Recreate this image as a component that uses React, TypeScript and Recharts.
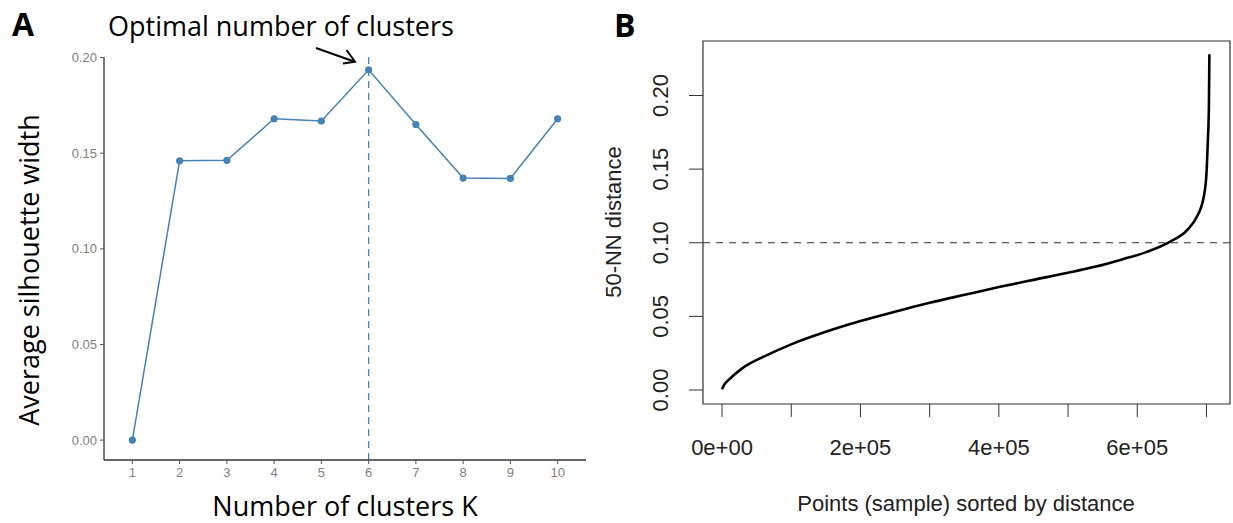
import React from 'react';
import { LineChart, Line, XAxis, YAxis, ReferenceLine, ReferenceArea } from 'recharts';

// Panel A: silhouette width per number of clusters
const clusterK = [1, 2, 3, 4, 5, 6, 7, 8, 9, 10];
const silhouetteWidth = [0, 0.146, 0.1463, 0.168, 0.1668, 0.1936, 0.165, 0.137, 0.1368, 0.168];
const silhouetteTicks = [0, 0.05, 0.1, 0.15, 0.2];
const optimalK = 6;

// Panel B: sorted 50-NN distances
const pointRank = [
  0, 3000, 10000, 30000, 65000, 100000, 150000, 200000, 257000, 300000, 354000, 400000,
  450000, 500000, 540000, 578000, 614000, 647000, 672000, 686000, 696000, 700000, 702000,
  703500, 704200,
];
const knnDistance = [
  0.0005, 0.0035, 0.007, 0.015, 0.0237, 0.031, 0.0395, 0.0468, 0.054, 0.0592, 0.065, 0.0699,
  0.0748, 0.0796, 0.0838, 0.0887, 0.0938, 0.1006, 0.1085, 0.1176, 0.131, 0.147, 0.1696,
  0.192, 0.228,
];
const rankTicks = [0, 100000, 200000, 300000, 400000, 500000, 600000, 700000];
const distanceTicks = [0, 0.05, 0.1, 0.15, 0.2];
const epsCutoff = 0.1;

const silhouetteData = clusterK.map((k, i) => ({ k, width: silhouetteWidth[i] }));
const knnData = pointRank.map((rank, i) => ({ rank, dist: knnDistance[i] }));

const STEEL = '#4682B4';
const CALIBRI = '"Open Sans", "Noto Sans", sans-serif';
const ARIAL = '"Liberation Sans", Arial, sans-serif';

const rankDomain: [number, number] = [-27500, 734000];
const distDomain: [number, number] = [-0.0095, 0.237];

// R-style labels, only every other tick gets one
const sciLabel = (v: number) => {
  if ((v / 100000) % 2 !== 0) return '';
  return v === 0 ? '0e+00' : `${v / 100000}e+05`;
};

const RotatedTick = ({ y, payload }: any) => (
  <text
    x={68}
    y={y}
    transform={`rotate(-90, 68, ${y})`}
    textAnchor="middle"
    fontSize={22}
    fill="#222"
    fontFamily={ARIAL}
  >
    {payload.value.toFixed(2)}
  </text>
);

function SilhouettePanel() {
  return (
    <LineChart
      width={600}
      height={523}
      data={silhouetteData}
      margin={{ top: 57, right: 14, bottom: 62, left: 103 }}
    >
      <XAxis
        type="number"
        dataKey="k"
        domain={[0.4, 10.6]}
        ticks={clusterK}
        interval={0}
        height={1}
        tickSize={4}
        tickMargin={4}
        axisLine={{ stroke: '#333', strokeWidth: 1.3 }}
        tickLine={{ stroke: '#555' }}
        tick={{ fill: '#808080', fontSize: 13, fontFamily: ARIAL }}
      />
      <YAxis
        type="number"
        domain={[-0.0104, 0.2003]}
        ticks={silhouetteTicks}
        interval={0}
        width={1}
        tickSize={4}
        tickMargin={3}
        tickFormatter={(v: number) => v.toFixed(2)}
        axisLine={{ stroke: '#333', strokeWidth: 1.3 }}
        tickLine={{ stroke: '#555' }}
        tick={{ fill: '#808080', fontSize: 13, fontFamily: ARIAL }}
      />
      <ReferenceLine x={optimalK} stroke={STEEL} strokeWidth={1.3} strokeDasharray="7 5" />
      <Line
        type="linear"
        dataKey="width"
        stroke={STEEL}
        strokeWidth={1.5}
        dot={{ r: 3.6, fill: STEEL, stroke: STEEL, strokeWidth: 0 }}
        isAnimationActive={false}
      />
    </LineChart>
  );
}

function KnnPanel() {
  return (
    <LineChart
      width={633}
      height={523}
      data={knnData}
      margin={{ top: 41, right: 3, bottom: 118, left: 102 }}
    >
      <XAxis
        type="number"
        dataKey="rank"
        domain={rankDomain}
        ticks={rankTicks}
        interval={0}
        height={1}
        tickSize={13}
        tickMargin={22}
        tickFormatter={sciLabel}
        axisLine={false}
        tickLine={{ stroke: '#333' }}
        tick={{ fill: '#222', fontSize: 22, fontFamily: ARIAL }}
      />
      <YAxis
        type="number"
        domain={distDomain}
        ticks={distanceTicks}
        interval={0}
        width={1}
        tickSize={14}
        axisLine={false}
        tickLine={{ stroke: '#333' }}
        tick={<RotatedTick />}
      />
      {/* plot frame */}
      <ReferenceArea
        x1={rankDomain[0]}
        x2={rankDomain[1]}
        y1={distDomain[0]}
        y2={distDomain[1]}
        fill="none"
        fillOpacity={0}
        stroke="#333"
        strokeWidth={1.2}
      />
      <ReferenceLine y={epsCutoff} stroke="#333" strokeWidth={1.2} strokeDasharray="7 6" />
      <Line
        type="monotone"
        dataKey="dist"
        stroke="#000"
        strokeWidth={2.6}
        dot={false}
        isAnimationActive={false}
      />
    </LineChart>
  );
}

export default function App() {
  return (
    <div style={{ position: 'absolute', left: 0, top: 0, width: 1233, height: 523, background: '#fff' }}>
      <div style={{ position: 'absolute', left: 0, top: 0 }}>
        <SilhouettePanel />
      </div>
      <div style={{ position: 'absolute', left: 600, top: 0 }}>
        <KnnPanel />
      </div>
      <svg
        width={1233}
        height={523}
        style={{ position: 'absolute', left: 0, top: 0, pointerEvents: 'none' }}
      >
        <text x={12} y={36} fontSize={32} fontWeight="bold" fontFamily={CALIBRI}>A</text>
        <text x={614} y={36.7} fontSize={32} fontWeight="bold" fontFamily={CALIBRI}>B</text>
        <text x={108} y={36} fontSize={27} fontFamily={CALIBRI}>Optimal number of clusters</text>
        <polyline points="316,48 354,61.5" fill="none" stroke="#000" strokeWidth={2} />
        <polyline
          points="346.5,50 355,61.7 343,63.5"
          fill="none"
          stroke="#000"
          strokeWidth={2}
          strokeLinejoin="miter"
        />
        <text x={345} y={516} fontSize={27} textAnchor="middle" fontFamily={CALIBRI}>
          Number of clusters K
        </text>
        <text
          x={39}
          y={270}
          fontSize={27}
          textAnchor="middle"
          transform="rotate(-90, 39, 270)"
          fontFamily={CALIBRI}
        >
          Average silhouette width
        </text>
        <text
          x={621}
          y={222}
          fontSize={22}
          textAnchor="middle"
          transform="rotate(-90, 621, 222)"
          fill="#222"
          fontFamily={ARIAL}
        >
          50-NN distance
        </text>
        <text x={966} y={511} fontSize={22} textAnchor="middle" fill="#222" fontFamily={ARIAL}>
          Points (sample) sorted by distance
        </text>
      </svg>
    </div>
  );
}
